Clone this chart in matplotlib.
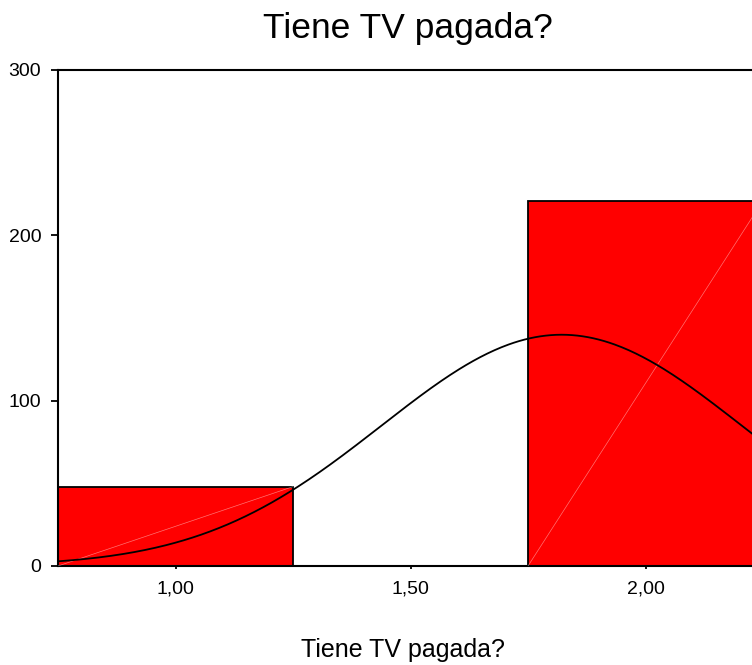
import numpy as np
import matplotlib.pyplot as plt

plt.rcParams['font.family'] = ['Liberation Sans', 'DejaVu Sans']

# Histogram data
bin_centers = [1.0, 2.0]
counts = [48, 221]
bin_width = 0.5
values = [1.0, 2.0]

x_ticks = [1.0, 1.5, 2.0]
x_tick_labels = ['1,00', '1,50', '2,00']
y_ticks = [0, 100, 200, 300]

title = 'Tiene TV pagada?'
xlabel = 'Tiene TV pagada?'

# Normal curve fitted to the data (SPSS style)
n = sum(counts)
mean = sum(v * c for v, c in zip(values, counts)) / n
sd = np.sqrt(sum(c * (v - mean) ** 2 for v, c in zip(values, counts)) / (n - 1))

fig = plt.figure(figsize=(7.52, 6.65), dpi=100)
ax = fig.add_axes([58 / 752, 1 - 566 / 665, 705 / 752, 496 / 665])

bars = ax.bar(bin_centers, counts, width=bin_width, color='#ff0000',
              edgecolor='black', linewidth=1.3, zorder=2)

# faint diagonal artefacts across the bars
for b in bars:
    x0, w, h = b.get_x(), b.get_width(), b.get_height()
    ax.plot([x0, x0 + w], [0, h], color='white', lw=0.5, alpha=0.45, zorder=3)

xs = np.linspace(0.75, 2.25, 400)
ys = n * bin_width / (sd * np.sqrt(2 * np.pi)) * np.exp(-0.5 * ((xs - mean) / sd) ** 2)
ax.plot(xs, ys, color='black', lw=1.3, zorder=4)

ax.set_xlim(0.75, 2.25)
ax.set_ylim(0, 300)
ax.set_xticks(x_ticks)
ax.set_xticklabels(x_tick_labels)
ax.set_yticks(y_ticks)

for s in ax.spines.values():
    s.set_linewidth(1.5)
ax.tick_params(axis='y', direction='out', length=5, width=1.3, pad=7, labelsize=14)
ax.tick_params(axis='x', direction='out', length=2.5, width=1.3, pad=8, labelsize=14)

ax.set_title(title, fontsize=25.5, pad=23, x=350 / 705)
ax.set_xlabel(xlabel, fontsize=18)
ax.xaxis.set_label_coords(345 / 705, -0.145)

fig.savefig('out.png', dpi=100)
